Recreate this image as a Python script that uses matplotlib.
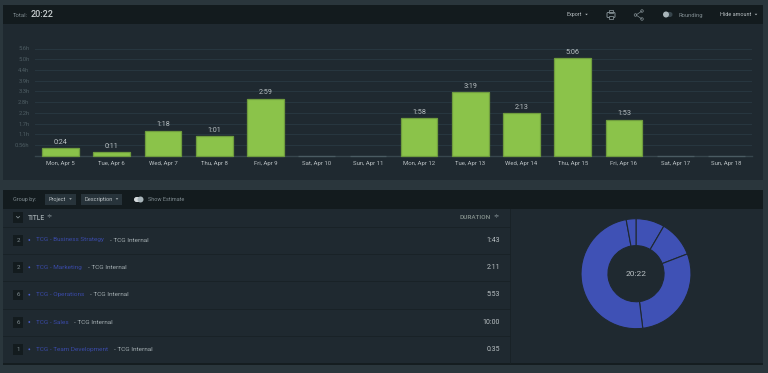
import matplotlib.pyplot as plt
from matplotlib.patches import Rectangle, FancyBboxPatch, Circle, Polygon

plt.rcParams['font.family'] = ['Roboto', 'DejaVu Sans']

# ====== data ======
days = ['Mon, Apr 5', 'Tue, Apr 6', 'Wed, Apr 7', 'Thu, Apr 8', 'Fri, Apr 9', 'Sat, Apr 10', 'Sun, Apr 11',
        'Mon, Apr 12', 'Tue, Apr 13', 'Wed, Apr 14', 'Thu, Apr 15', 'Fri, Apr 16', 'Sat, Apr 17', 'Sun, Apr 18']
day_minutes = [24, 11, 78, 61, 179, 0, 0, 118, 199, 133, 306, 113, 0, 0]
y_ticks = [0.56, 1.12, 1.68, 2.24, 2.8, 3.36, 3.92, 4.48, 5.04, 5.6]
y_labels = ['0.56h', '1.1h', '1.7h', '2.2h', '2.8h', '3.3h', '3.9h', '4.4h', '5.0h', '5.6h']

projects = ['TCG - Business Strategy', 'TCG - Marketing', 'TCG - Operations', 'TCG - Sales', 'TCG - Team Development']
counts = [2, 2, 6, 6, 1]
project_minutes = [103, 131, 353, 600, 35]
total = '20:22'

PAGE = '#2a363c'
PANEL = '#1f2930'
HEAD = '#131b1e'
GRID = '#283740'
TEXT = '#b9c0c3'
DIM = '#808c91'
GREEN = '#8bc34a'
BLUE = '#3f51b5'


def hm(m):
    return f'{m // 60}:{m % 60:02d}'


W, H = 768, 373
fig = plt.figure(figsize=(W / 100, H / 100), dpi=100, facecolor=PAGE)

# page chrome, drawn in pixel coordinates
bg = fig.add_axes([0, 0, 1, 1], zorder=0)
bg.set_xlim(0, W); bg.set_ylim(H, 0); bg.axis('off')


def box(x0, y0, x1, y1, c):
    bg.add_patch(Rectangle((x0, y0), x1 - x0, y1 - y0, fc=c, ec='none'))


def txt(x, y, s, c=TEXT, size=4.6, ha='left', **kw):
    bg.text(x, y, s, color=c, fontsize=size, ha=ha, va='center', **kw)


def caret(x, y, c=TEXT):
    bg.add_patch(Polygon([(x - 1.3, y - 0.7), (x + 1.3, y - 0.7), (x, y + 0.7)], fc=c, ec='none'))


def toggle(x0, y, on_left=True):
    bg.add_patch(FancyBboxPatch((x0 + 2.5, y - 2.5), 7, 5, boxstyle='round,pad=0,rounding_size=2.5',
                                fc='#37454c' if on_left else '#d5dadc', ec='none'))
    bg.add_patch(Circle((x0 + 3 if on_left else x0 + 9, y), 3, fc='#a9b5ba', ec='none'))


# top panel
box(3, 5, 762.5, 179.5, PANEL)
box(3, 5, 762.5, 24, HEAD)
txt(13, 15.5, 'Total:', DIM, 4.2)
txt(31, 14.5, total, '#c9cfd1', 6.5, fontweight='medium')
txt(566.5, 14.5, 'Export', TEXT, 3.9)
caret(586.5, 14.5)
# print icon
bg.add_patch(FancyBboxPatch((607, 12.5), 8, 5, boxstyle='round,pad=0,rounding_size=1', fc='none', ec=DIM, lw=0.7))
bg.add_patch(Rectangle((609, 10), 4, 2.5, fc='none', ec=DIM, lw=0.6))
bg.add_patch(Rectangle((609, 15.5), 4, 3.5, fc=HEAD, ec=DIM, lw=0.6))
# share icon
bg.plot([642, 636, 642], [11, 15, 19], color=DIM, lw=0.5)
for sx, sy in [(642, 11), (635.5, 15), (642, 19)]:
    bg.add_patch(Circle((sx, sy), 1.3, fc=HEAD, ec=DIM, lw=0.5))
toggle(663, 14.5)
txt(678.5, 15, 'Rounding', DIM, 4.2)
txt(720, 14.5, 'Hide amount', TEXT, 4.0)
caret(756, 14.5)

# bottom panel
box(3, 190, 762.5, 364, PANEL)
box(3, 190, 762.5, 208.5, HEAD)
box(3, 363, 762.5, 364.5, '#151d20')
txt(13, 199.5, 'Group by:', DIM, 4.0)
box(45, 194, 76, 204.5, '#27333a')
txt(48.5, 199.5, 'Project', TEXT, 4.0)
caret(70.5, 199)
box(81, 194, 122, 204.5, '#27333a')
txt(84.5, 199.5, 'Description', TEXT, 4.1)
caret(117, 199)
toggle(131.5, 199.5, on_left=False)
txt(148, 199.5, 'Show Estimate', DIM, 4.0)

# table
box(13, 212, 23, 222.5, HEAD)
bg.plot([16.5, 18, 19.5], [216.5, 218, 216.5], color=DIM, lw=0.6)
txt(28, 217.5, 'TITLE', '#a3adb0', 4.8, fontweight='medium')
txt(49, 217, '≑', DIM, 4.5, ha='center')
txt(490.5, 217.5, 'DURATION', '#87938f', 4.6, ha='right', fontweight='medium')
txt(496, 217, '≑', DIM, 4.5, ha='center')
for sep in [226.7, 253.7, 281, 308.5, 335.5]:
    bg.plot([3, 509.5], [sep, sep], color='#182126', lw=0.6)
bg.plot([509.7, 509.7], [208.5, 363], color='#182126', lw=0.6)

row_y = [240, 267.3, 294.7, 322, 349.3]
name_px = [68, 45.5, 48, 32.5, 72]
for y, name, n, m, w in zip(row_y, projects, counts, project_minutes, name_px):
    box(13, y - 5, 23, y + 5.5, HEAD)
    txt(18, y, str(n), DIM, 4.4, ha='center')
    bg.add_patch(Circle((29.3, y), 0.9, fc='#4a5fd0', ec='none'))
    txt(36.5, y, name, '#3a4aa8', 4.6)
    txt(36.5 + w + 5.5, y, '- TCG Internal', '#a3adb0', 4.6)
    txt(500, y, hm(m), TEXT, 5, ha='right')

# bar chart
ax = fig.add_axes([35 / W, 1 - 155.7 / H, 717 / W, 107.2 / H], zorder=1)
ax.patch.set_alpha(0)
hours = [m / 60 for m in day_minutes]
edges = ['#6f9c3e' if m > 0 else '#4a5b62' for m in day_minutes]
bars = ax.bar(range(len(days)), hours, width=0.717, color=GREEN, edgecolor=edges, linewidth=0.9, zorder=3)
for bar, m in zip(bars, day_minutes):
    bar.set_clip_on(False)
    if m > 0:
        ax.annotate(hm(m), (bar.get_x() + bar.get_width() / 2, bar.get_height()), xytext=(0, 1.8),
                    textcoords='offset points', ha='center', va='bottom', color=TEXT, fontsize=5.2)
ax.set_xlim(-0.5, 13.5)
ax.set_ylim(0, 5.6)
ax.set_xticks(range(len(days)))
ax.set_xticklabels(days, color=TEXT, fontsize=4.3)
ax.set_yticks(y_ticks)
ax.set_yticklabels(y_labels, color='#4d5c62', fontsize=4.2)
ax.tick_params(axis='x', length=0, pad=3.5)
ax.tick_params(axis='y', length=0, pad=4)
ax.grid(axis='y', color=GRID, linewidth=0.7, zorder=0)
ax.set_axisbelow(True)
for name, sp in ax.spines.items():
    sp.set_visible(name == 'bottom')
ax.spines['bottom'].set_color('#37464d')
ax.spines['bottom'].set_linewidth(1)

# donut, pie keeps its limits at +-1.25 of the radius
cx, cy, half = 636, 273.7, 55 * 1.25
pie = fig.add_axes([(cx - half) / W, 1 - (cy + half) / H, 2 * half / W, 2 * half / H], zorder=1)
pie.pie(project_minutes, startangle=90, counterclock=False, colors=[BLUE] * len(projects),
        wedgeprops=dict(width=0.49, edgecolor=PANEL, linewidth=0.8))
pie.text(0, 0, total, color=TEXT, fontsize=6, ha='center', va='center')

fig.savefig('out.png', dpi=100, facecolor=PAGE)
